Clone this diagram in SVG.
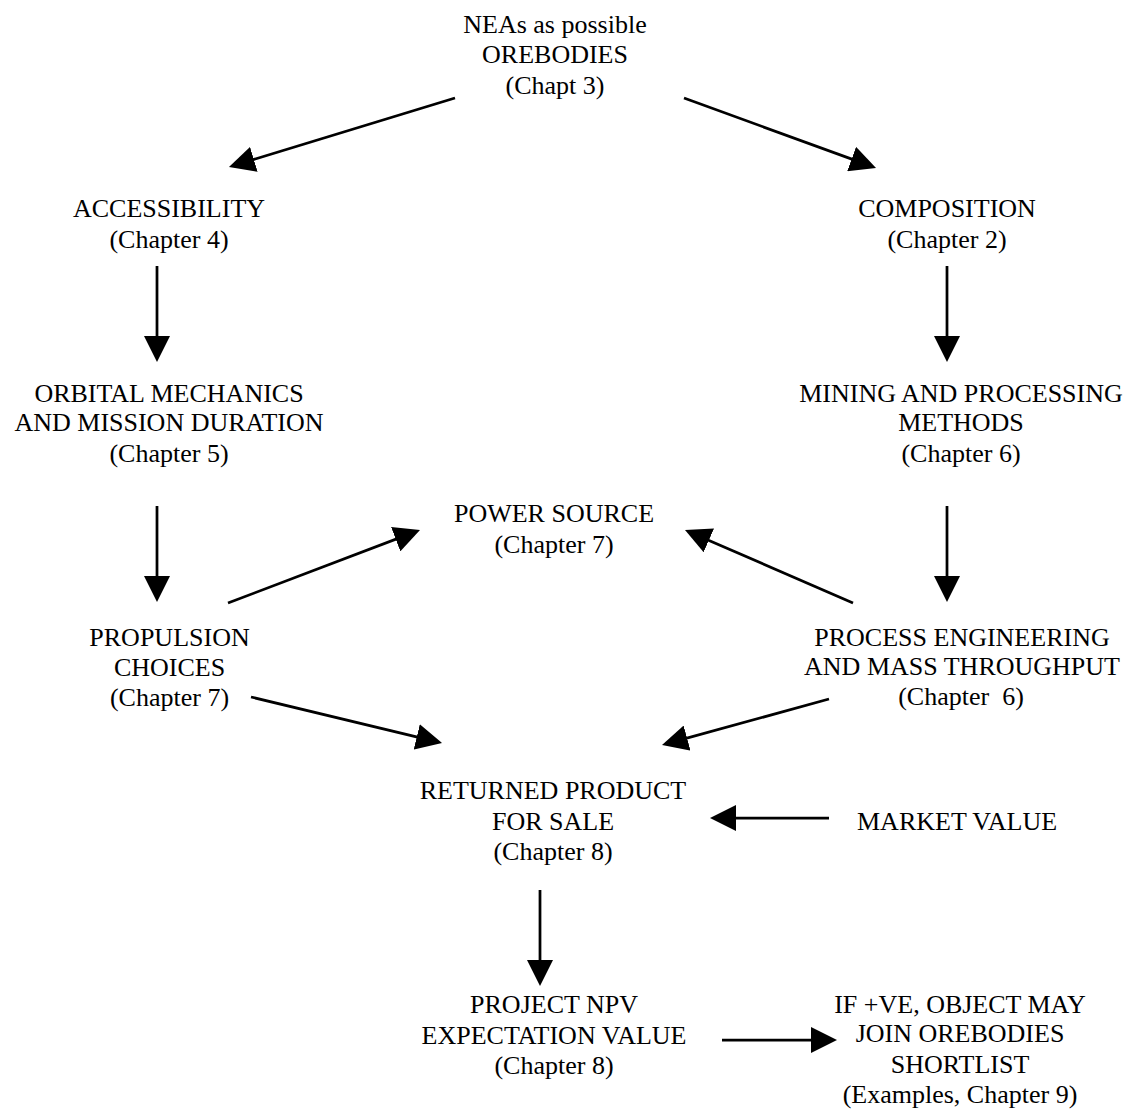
<svg xmlns="http://www.w3.org/2000/svg" width="1140" height="1111" viewBox="0 0 1140 1111">
<style>
text { font-family: "Liberation Serif", "Times New Roman", serif; font-size: 26px; fill: #000; text-anchor: middle; white-space: pre; }
.conn line { stroke: #000; stroke-width: 2.75; marker-end: url(#ah); }
</style>
<defs>
<marker id="ah" markerUnits="userSpaceOnUse" markerWidth="26" markerHeight="26" refX="20" refY="13" orient="auto">
<path d="M0,0 L26,13 L0,26 z" fill="#000"/>
</marker>
</defs>
<rect width="1140" height="1111" fill="#fff"/>
<g id="n-neas">
<text x="555" y="33">NEAs as possible</text>
<text x="555" y="63">OREBODIES</text>
<text x="555" y="94">(Chapt 3)</text>
</g>
<g id="n-access">
<text x="169" y="217">ACCESSIBILITY</text>
<text x="169" y="248">(Chapter 4)</text>
</g>
<g id="n-comp">
<text x="947" y="217">COMPOSITION</text>
<text x="947" y="248">(Chapter 2)</text>
</g>
<g id="n-orbital">
<text x="169" y="402">ORBITAL MECHANICS</text>
<text x="169" y="431">AND MISSION DURATION</text>
<text x="169" y="462">(Chapter 5)</text>
</g>
<g id="n-mining">
<text x="961" y="402">MINING AND PROCESSING</text>
<text x="961" y="431">METHODS</text>
<text x="961" y="462">(Chapter 6)</text>
</g>
<g id="n-power">
<text x="554" y="522">POWER SOURCE</text>
<text x="554" y="553">(Chapter 7)</text>
</g>
<g id="n-propulsion">
<text x="169.5" y="646">PROPULSION</text>
<text x="169.5" y="676">CHOICES</text>
<text x="169.5" y="706">(Chapter 7)</text>
</g>
<g id="n-process">
<text x="962" y="646">PROCESS ENGINEERING</text>
<text x="962" y="675">AND MASS THROUGHPUT</text>
<text x="961" y="705">(Chapter  6)</text>
</g>
<g id="n-returned">
<text x="553" y="799">RETURNED PRODUCT</text>
<text x="553" y="830">FOR SALE</text>
<text x="553" y="860">(Chapter 8)</text>
</g>
<g id="n-market">
<text x="857" y="830" style="text-anchor:start">MARKET VALUE</text>
</g>
<g id="n-npv">
<text x="554" y="1013">PROJECT NPV</text>
<text x="554" y="1044">EXPECTATION VALUE</text>
<text x="554" y="1074">(Chapter 8)</text>
</g>
<g id="n-shortlist">
<text x="960" y="1013">IF +VE, OBJECT MAY</text>
<text x="960" y="1042">JOIN OREBODIES</text>
<text x="960" y="1073">SHORTLIST</text>
<text x="960" y="1103">(Examples, Chapter 9)</text>
</g>
<g id="connectors" class="conn">
<line x1="455" y1="98" x2="234.7" y2="165.2"/>
<line x1="684" y1="98" x2="870.4" y2="165.9"/>
<line x1="157" y1="266" x2="157" y2="356"/>
<line x1="947" y1="266" x2="947" y2="356"/>
<line x1="157" y1="506" x2="157" y2="596"/>
<line x1="947" y1="506" x2="947" y2="596"/>
<line x1="228" y1="603" x2="414.4" y2="532.1"/>
<line x1="853" y1="603" x2="690.5" y2="532.4"/>
<line x1="251" y1="697" x2="436.2" y2="741.6"/>
<line x1="829" y1="699" x2="667.8" y2="743.4"/>
<line x1="829" y1="818" x2="716" y2="818"/>
<line x1="540" y1="890" x2="540" y2="980"/>
<line x1="722" y1="1040" x2="831" y2="1040"/>
</g>
</svg>
